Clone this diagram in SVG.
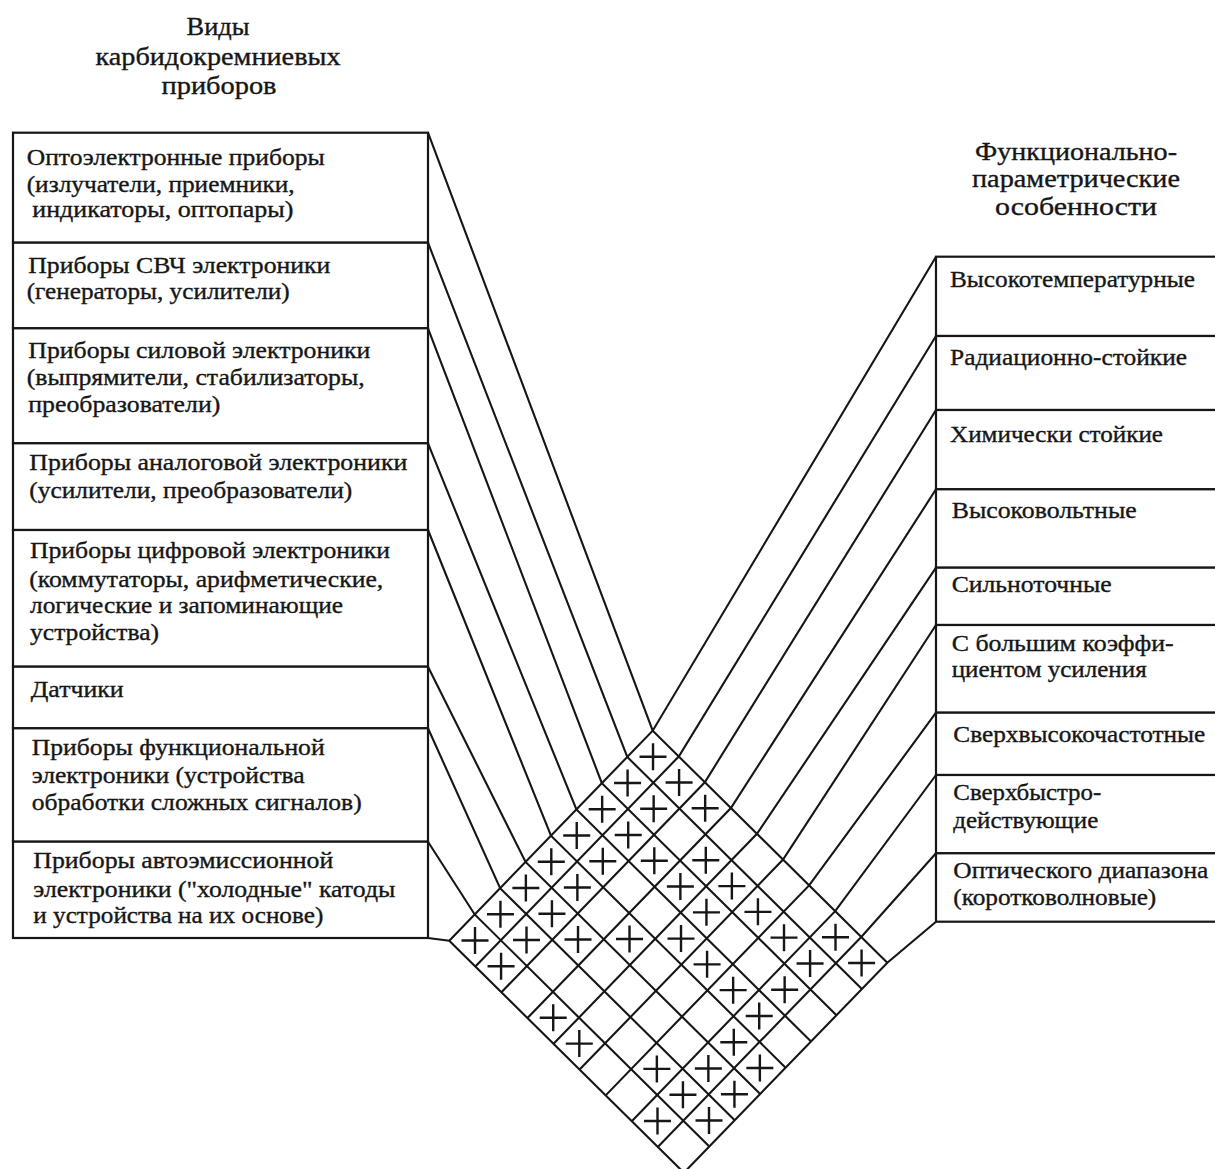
<svg xmlns="http://www.w3.org/2000/svg" width="1215" height="1169" viewBox="0 0 1215 1169">
<style>
  .box{fill:#fff;stroke:#161616;stroke-width:2.2}
  .conn{fill:none;stroke:#161616;stroke-width:2.1;stroke-linejoin:miter}
  text{font-family:"Liberation Serif","Times New Roman",serif;fill:#161616;stroke:#161616;stroke-width:0.35;font-size:23.5px}
  .ttl{font-size:25px;text-anchor:middle}
  .plus{fill:none;stroke:#161616;stroke-width:2.4}
</style>
<defs>
  <path id="p" class="plus" d="M-13.5,0H13.5M0,-13.5V13.5"/>
</defs>
<rect width="1215" height="1169" fill="#fff"/>

<g id="title-left">
  <text class="ttl" x="218" y="35" textLength="63" lengthAdjust="spacingAndGlyphs">Виды</text>
  <text class="ttl" x="218" y="64.5" textLength="245" lengthAdjust="spacingAndGlyphs">карбидокремниевых</text>
  <text class="ttl" x="219" y="93.5" textLength="115" lengthAdjust="spacingAndGlyphs">приборов</text>
</g>
<g id="title-right">
  <text class="ttl" x="1076" y="160" textLength="202" lengthAdjust="spacingAndGlyphs">Функционально-</text>
  <text class="ttl" x="1076" y="187" textLength="208" lengthAdjust="spacingAndGlyphs">параметрические</text>
  <text class="ttl" x="1076" y="214.5" textLength="162" lengthAdjust="spacingAndGlyphs">особенности</text>
</g>

<g id="connectors">
  <path class="conn" d="M428,132.7L652.70,730.70L887.33,962.72"/>
  <path class="conn" d="M428,242.7L627.27,756.95L861.90,988.97"/>
  <path class="conn" d="M428,328.3L601.84,783.20L836.47,1015.22"/>
  <path class="conn" d="M428,443.3L576.41,809.45L811.04,1041.47"/>
  <path class="conn" d="M428,530L550.98,835.70L785.61,1067.72"/>
  <path class="conn" d="M428,666.7L525.55,861.95L760.18,1093.97"/>
  <path class="conn" d="M428,728.3L500.12,888.20L734.75,1120.22"/>
  <path class="conn" d="M428,841.7L474.69,914.45L709.32,1146.47"/>
  <path class="conn" d="M428,938L449.26,940.70L683.89,1172.72"/>

  <path class="conn" d="M936,256.7L652.70,730.70L449.26,940.70"/>
  <path class="conn" d="M936,336L678.77,756.48L475.33,966.48"/>
  <path class="conn" d="M936,410L704.84,782.26L501.40,992.26"/>
  <path class="conn" d="M936,489.3L730.91,808.04L527.47,1018.04"/>
  <path class="conn" d="M936,567.7L756.98,833.82L553.54,1043.82"/>
  <path class="conn" d="M936,625L783.05,859.60L579.61,1069.60"/>
  <path class="conn" d="M936,712.7L809.12,885.38L605.68,1095.38"/>
  <path class="conn" d="M936,775L835.19,911.16L631.75,1121.16"/>
  <path class="conn" d="M936,853.3L861.26,936.94L657.82,1146.94"/>
  <path class="conn" d="M936,921.7L887.33,962.72L683.89,1172.72"/>
</g>

<g id="l1"><rect class="box" x="13" y="132.7" width="415" height="110"/>
  <text x="26.7" y="165" textLength="298" lengthAdjust="spacingAndGlyphs">Оптоэлектронные приборы</text>
  <text x="26.7" y="191.7" textLength="268" lengthAdjust="spacingAndGlyphs">(излучатели, приемники,</text>
  <text x="32.3" y="217.3" textLength="261" lengthAdjust="spacingAndGlyphs">индикаторы, оптопары)</text></g>
<g id="l2"><rect class="box" x="13" y="242.7" width="415" height="85.6"/>
  <text x="28.3" y="273.3" textLength="302" lengthAdjust="spacingAndGlyphs">Приборы СВЧ электроники</text>
  <text x="26.7" y="299.3" textLength="263" lengthAdjust="spacingAndGlyphs">(генераторы, усилители)</text></g>
<g id="l3"><rect class="box" x="13" y="328.3" width="415" height="115"/>
  <text x="28.3" y="358.3" textLength="342" lengthAdjust="spacingAndGlyphs">Приборы силовой электроники</text>
  <text x="26.7" y="385" textLength="338" lengthAdjust="spacingAndGlyphs">(выпрямители, стабилизаторы,</text>
  <text x="28.3" y="411.7" textLength="192" lengthAdjust="spacingAndGlyphs">преобразователи)</text></g>
<g id="l4"><rect class="box" x="13" y="443.3" width="415" height="86.7"/>
  <text x="29.3" y="470" textLength="378" lengthAdjust="spacingAndGlyphs">Приборы аналоговой электроники</text>
  <text x="29.3" y="498.3" textLength="323" lengthAdjust="spacingAndGlyphs">(усилители, преобразователи)</text></g>
<g id="l5"><rect class="box" x="13" y="530" width="415" height="136.7"/>
  <text x="30" y="558.3" textLength="360" lengthAdjust="spacingAndGlyphs">Приборы цифровой электроники</text>
  <text x="29.3" y="586.7" textLength="354" lengthAdjust="spacingAndGlyphs">(коммутаторы, арифметические,</text>
  <text x="30" y="613.3" textLength="313" lengthAdjust="spacingAndGlyphs">логические и запоминающие</text>
  <text x="30" y="640" textLength="129" lengthAdjust="spacingAndGlyphs">устройства)</text></g>
<g id="l6"><rect class="box" x="13" y="666.7" width="415" height="61.6"/>
  <text x="30.7" y="696.7" textLength="93" lengthAdjust="spacingAndGlyphs">Датчики</text></g>
<g id="l7"><rect class="box" x="13" y="728.3" width="415" height="113.4"/>
  <text x="31.7" y="755" textLength="293" lengthAdjust="spacingAndGlyphs">Приборы функциональной</text>
  <text x="31.7" y="783.3" textLength="273" lengthAdjust="spacingAndGlyphs">электроники (устройства</text>
  <text x="31.7" y="810" textLength="330" lengthAdjust="spacingAndGlyphs">обработки сложных сигналов)</text></g>
<g id="l8"><rect class="box" x="13" y="841.7" width="415" height="96.3"/>
  <text x="33.3" y="868.3" textLength="300" lengthAdjust="spacingAndGlyphs">Приборы автоэмиссионной</text>
  <text x="33.3" y="896.7" textLength="362" lengthAdjust="spacingAndGlyphs">электроники ("холодные" катоды</text>
  <text x="33.3" y="923.3" textLength="290" lengthAdjust="spacingAndGlyphs">и устройства на их основе)</text></g>

<g id="r1"><rect class="box" x="936" y="256.7" width="300" height="79.3"/>
  <text x="950" y="286.7" textLength="245" lengthAdjust="spacingAndGlyphs">Высокотемпературные</text></g>
<g id="r2"><rect class="box" x="936" y="336" width="300" height="74"/>
  <text x="950" y="365" textLength="237" lengthAdjust="spacingAndGlyphs">Радиационно-стойкие</text></g>
<g id="r3"><rect class="box" x="936" y="410" width="300" height="79.3"/>
  <text x="950" y="441.7" textLength="213" lengthAdjust="spacingAndGlyphs">Химически стойкие</text></g>
<g id="r4"><rect class="box" x="936" y="489.3" width="300" height="78.4"/>
  <text x="951.7" y="518.3" textLength="185" lengthAdjust="spacingAndGlyphs">Высоковольтные</text></g>
<g id="r5"><rect class="box" x="936" y="567.7" width="300" height="57.3"/>
  <text x="951.7" y="591.7" textLength="160" lengthAdjust="spacingAndGlyphs">Сильноточные</text></g>
<g id="r6"><rect class="box" x="936" y="625" width="300" height="87.7"/>
  <text x="951.7" y="651" textLength="222" lengthAdjust="spacingAndGlyphs">С большим коэффи-</text>
  <text x="951.7" y="676.7" textLength="195" lengthAdjust="spacingAndGlyphs">циентом усиления</text></g>
<g id="r7"><rect class="box" x="936" y="712.7" width="300" height="62.3"/>
  <text x="953.3" y="741.7" textLength="252" lengthAdjust="spacingAndGlyphs">Сверхвысокочастотные</text></g>
<g id="r8"><rect class="box" x="936" y="775" width="300" height="78.3"/>
  <text x="953.3" y="800" textLength="148" lengthAdjust="spacingAndGlyphs">Сверхбыстро-</text>
  <text x="953.3" y="828.3" textLength="145" lengthAdjust="spacingAndGlyphs">действующие</text></g>
<g id="r9"><rect class="box" x="936" y="853.3" width="300" height="68.4"/>
  <text x="953.3" y="878.3" textLength="255" lengthAdjust="spacingAndGlyphs">Оптического диапазона</text>
  <text x="953.3" y="905" textLength="203" lengthAdjust="spacingAndGlyphs">(коротковолновые)</text></g>

<g id="marks">
  <use href="#p" x="653.02" y="756.72"/>
  <use href="#p" x="627.59" y="782.97"/>
  <use href="#p" x="679.09" y="782.50"/>
  <use href="#p" x="602.16" y="809.22"/>
  <use href="#p" x="653.66" y="808.75"/>
  <use href="#p" x="705.16" y="808.28"/>
  <use href="#p" x="576.73" y="835.47"/>
  <use href="#p" x="628.23" y="835.00"/>
  <use href="#p" x="551.30" y="861.72"/>
  <use href="#p" x="602.80" y="861.25"/>
  <use href="#p" x="654.30" y="860.78"/>
  <use href="#p" x="705.80" y="860.31"/>
  <use href="#p" x="525.87" y="887.97"/>
  <use href="#p" x="577.37" y="887.50"/>
  <use href="#p" x="680.37" y="886.56"/>
  <use href="#p" x="731.87" y="886.09"/>
  <use href="#p" x="500.44" y="914.22"/>
  <use href="#p" x="551.94" y="913.75"/>
  <use href="#p" x="706.44" y="912.34"/>
  <use href="#p" x="757.94" y="911.87"/>
  <use href="#p" x="475.01" y="940.47"/>
  <use href="#p" x="526.51" y="940.00"/>
  <use href="#p" x="578.01" y="939.53"/>
  <use href="#p" x="629.51" y="939.06"/>
  <use href="#p" x="681.01" y="938.59"/>
  <use href="#p" x="784.01" y="937.65"/>
  <use href="#p" x="835.51" y="937.18"/>
  <use href="#p" x="501.08" y="966.25"/>
  <use href="#p" x="707.08" y="964.37"/>
  <use href="#p" x="810.08" y="963.43"/>
  <use href="#p" x="861.58" y="962.96"/>
  <use href="#p" x="733.15" y="990.15"/>
  <use href="#p" x="784.65" y="989.68"/>
  <use href="#p" x="553.22" y="1017.81"/>
  <use href="#p" x="759.22" y="1015.93"/>
  <use href="#p" x="579.29" y="1043.59"/>
  <use href="#p" x="733.79" y="1042.18"/>
  <use href="#p" x="656.86" y="1068.90"/>
  <use href="#p" x="708.36" y="1068.43"/>
  <use href="#p" x="759.86" y="1067.96"/>
  <use href="#p" x="682.93" y="1094.68"/>
  <use href="#p" x="734.43" y="1094.21"/>
  <use href="#p" x="657.50" y="1120.93"/>
  <use href="#p" x="709.00" y="1120.46"/>
</g>
</svg>
